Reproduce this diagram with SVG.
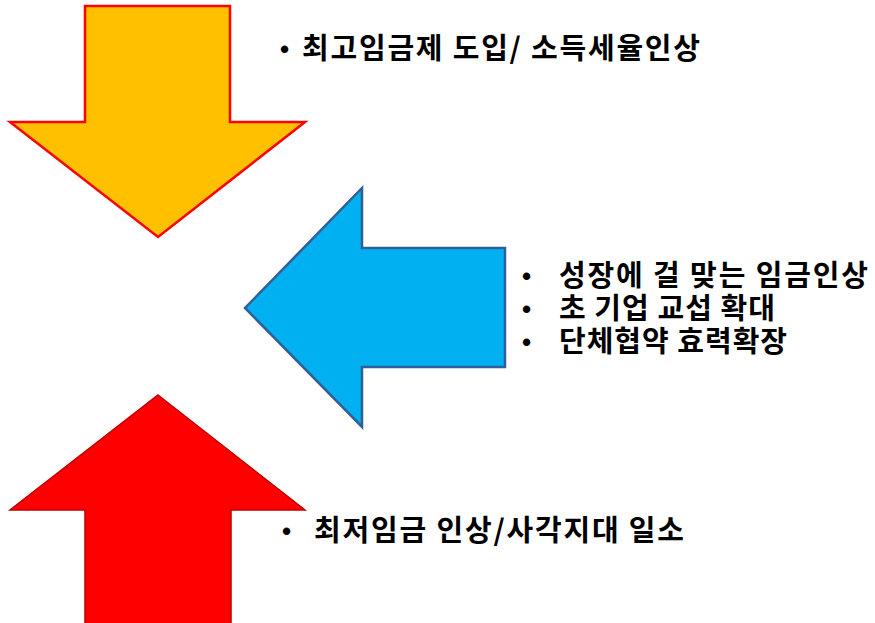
<svg xmlns="http://www.w3.org/2000/svg" width="875" height="623" viewBox="0 0 875 623">
<style>
.t{font-family:"Noto Sans CJK KR","Noto Sans",sans-serif;font-weight:bold;font-size:29px;fill:#000}
.b{font-family:"Liberation Sans",sans-serif;font-weight:bold;font-size:26px;fill:#000}
</style>
<rect width="875" height="623" fill="#fff"/>
<g id="arrow-down">
<polygon points="85,6 230,6 230,122 305,122 158,237 10,122 85,122" fill="#FFC000" stroke="#FF0000" stroke-width="2.5" stroke-linejoin="miter"/>
</g>
<g id="arrow-left">
<polygon points="505,248 505,367 362,367 362,427 245,308 362,188 362,248" fill="#00B0F0" stroke="#2F5F9A" stroke-width="2.5"/>
</g>
<g id="arrow-up">
<polygon points="158,395 305,510 231,510 231,630 85,630 85,510 10,510" fill="#FF0000" stroke="#C00000" stroke-width="1.5"/>
</g>
<g id="label-top">
<text class="b" x="280" y="58">•</text>
<text class="t" x="302" y="59" textLength="398" lengthAdjust="spacing">최고임금제 도입/ 소득세율인상</text>
</g>
<g id="label-right">
<text class="b" x="522" y="285">•</text>
<text class="t" x="559" y="286" textLength="309" lengthAdjust="spacing">성장에 걸 맞는 임금인상</text>
<text class="b" x="522" y="318">•</text>
<text class="t" x="559" y="319" textLength="216" lengthAdjust="spacing">초 기업 교섭 확대</text>
<text class="b" x="522" y="351">•</text>
<text class="t" x="559" y="352" textLength="228" lengthAdjust="spacing">단체협약 효력확장</text>
</g>
<g id="label-bottom">
<text class="b" x="282" y="540">•</text>
<text class="t" x="314" y="541" textLength="370" lengthAdjust="spacing">최저임금 인상/사각지대 일소</text>
</g>
</svg>
